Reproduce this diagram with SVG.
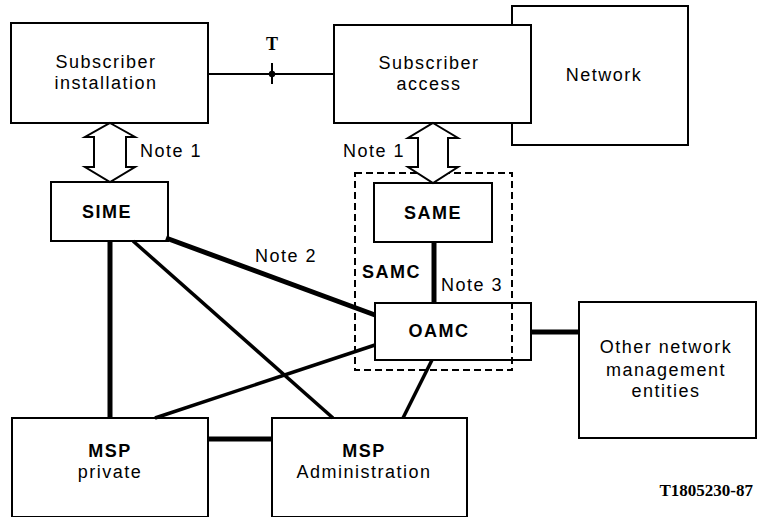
<svg xmlns="http://www.w3.org/2000/svg" width="757" height="517" viewBox="0 0 757 517">
<style>
.box{fill:none;stroke:#000;stroke-width:2}
.t{font-family:"Liberation Sans",Arial,sans-serif;font-size:18px;letter-spacing:1.5px;text-anchor:middle;fill:#000}
.b{font-weight:bold}
.l{text-anchor:start}
.thick{stroke:#000;stroke-width:5;fill:none}
.med{stroke:#000;stroke-width:3.5;fill:none}
.thin{stroke:#000;stroke-width:2;fill:none}
.arr{fill:#fff;stroke:#000;stroke-width:2;stroke-linejoin:miter}
</style>
<rect width="757" height="517" fill="#fff"/>
<g id="network">
<rect class="box" x="512" y="6" width="176" height="139"/>
<text class="t" x="604" y="81">Network</text>
</g>
<g id="subscriber-installation">
<rect class="box" x="11" y="23" width="197" height="100"/>
<text class="t" x="106" y="68">Subscriber</text>
<text class="t" x="106" y="89">installation</text>
</g>
<g id="subscriber-access">
<rect class="box" x="334" y="25" width="197" height="98" style="fill:#fff"/>
<text class="t" x="429" y="69">Subscriber</text>
<text class="t" x="429" y="90">access</text>
</g>
<g id="sime">
<rect class="box" x="51" y="182" width="117" height="59"/>
<text class="t b" x="107" y="218">SIME</text>
</g>
<g id="same">
<rect class="box" x="374" y="183" width="118" height="59"/>
<text class="t b" x="433" y="219">SAME</text>
</g>
<g id="oamc">
<rect class="box" x="375" y="303" width="156" height="57"/>
<text class="t b" x="439" y="337">OAMC</text>
</g>
<g id="samc">
<rect x="355" y="173" width="157" height="197" fill="none" stroke="#000" stroke-width="2" stroke-dasharray="7,4"/>
<text class="t b l" x="362" y="278">SAMC</text>
</g>
<g id="other-nme">
<rect class="box" x="579" y="302" width="177" height="136"/>
<text class="t" x="666" y="353">Other network</text>
<text class="t" x="666" y="376">management</text>
<text class="t" x="666" y="397">entities</text>
</g>
<g id="msp-private">
<rect class="box" x="12" y="418" width="196" height="99"/>
<text class="t b" x="110" y="457">MSP</text>
<text class="t" x="110" y="478">private</text>
</g>
<g id="msp-administration">
<rect class="box" x="272" y="418" width="195" height="99"/>
<text class="t b" x="364" y="457">MSP</text>
<text class="t" x="364" y="478">Administration</text>
</g>
<g id="connectors">
<line class="thin" x1="208" y1="74" x2="334" y2="74"/>
<line class="thin" x1="272" y1="63" x2="272" y2="84"/>
<circle cx="272" cy="74" r="3.2" fill="#000"/>
<text x="272" y="50" font-family="'Liberation Serif','Times New Roman',serif" font-size="18" font-weight="bold" text-anchor="middle">T</text>
<polygon class="arr" points="110,123 135,137 126,137 126,167 135,167 110,182 85,167 94,167 94,137 85,137"/>
<text class="t l" x="140" y="157">Note 1</text>
<polygon class="arr" points="433,123 458,138 448,138 448,167 458,167 433,183 408,167 418,167 418,138 408,138"/>
<text class="t l" x="343" y="157">Note 1</text>
<line class="thick" x1="434" y1="242" x2="434" y2="303"/>
<text class="t l" x="441" y="291">Note 3</text>
<line class="thick" x1="166" y1="238" x2="375" y2="315"/>
<text class="t l" x="255" y="262">Note 2</text>
<line class="thick" x1="110" y1="241" x2="110" y2="418"/>
<line class="med" x1="133" y1="241" x2="333" y2="418"/>
<line class="med" x1="375" y1="345" x2="155" y2="418"/>
<line class="thick" x1="208" y1="439" x2="272" y2="439"/>
<line class="med" x1="432" y1="360" x2="403" y2="418"/>
<line class="thick" x1="531" y1="332" x2="579" y2="332"/>
</g>
<text x="753" y="496" font-family="'Liberation Serif','Times New Roman',serif" font-size="17" font-weight="bold" text-anchor="end">T1805230-87</text>
</svg>
